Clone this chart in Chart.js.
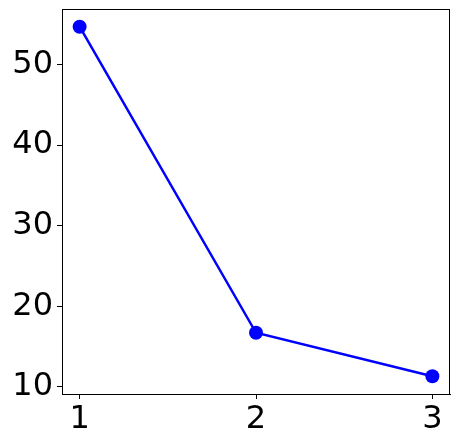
<!DOCTYPE html>
<html>
<head>
<meta charset="utf-8">
<script src="https://cdn.jsdelivr.net/npm/chart.js@4/dist/chart.umd.min.js"></script>
<style>
  html, body { margin: 0; padding: 0; background: #fff; }
  #wrap { width: 459px; height: 447px; }
</style>
</head>
<body>
<div id="wrap"><canvas id="line-chart"></canvas></div>
<script>
var xValues = [1, 2, 3];
var yValues = [54.7, 16.7, 11.3];
var xTicks = [1, 2, 3];
var yTicks = [10, 20, 30, 40, 50];

// box around the plot area, like matplotlib spines
var frame = {
    id: 'frame',
    afterDraw: function (chart) {
        var a = chart.chartArea;
        var ctx = chart.ctx;
        ctx.save();
        ctx.strokeStyle = '#000';
        ctx.lineWidth = 1;
        ctx.strokeRect(a.left + 0.5, a.top + 0.5, a.right - a.left - 1, a.bottom - a.top);
        ctx.restore();
    }
};

const ctx = document.getElementById('line-chart');

const config = {
    type: 'line',
    data: {
        datasets: [
            {
                label: 'series',
                data: xValues.map(function (x, i) { return {x: x, y: yValues[i]}; }),
                borderColor: '#0000ff',
                backgroundColor: '#0000ff',
                borderWidth: 2.5,
                pointRadius: 7,
                pointHoverRadius: 7,
                pointBorderWidth: 0,
                tension: 0,
            }
        ]
    },
    options: {
        responsive: true,
        maintainAspectRatio: false,
        animation: false,
        layout: {
            padding: {top: 9, right: 9, left: 0, bottom: 0}
        },
        plugins: {
            legend: {display: false},
            tooltip: {enabled: false}
        },
        scales: {
            x: {
                type: 'linear',
                min: 0.9,
                max: 3.1,
                afterBuildTicks: function (scale) {
                    scale.ticks = xTicks.map(function (v) { return {value: v}; });
                },
                afterFit: function (scale) {
                    scale.height = 53;
                    scale.paddingLeft = 0;
                    scale.paddingRight = 0;
                },
                grid: {drawOnChartArea: false, drawTicks: true, tickLength: 5, color: '#000'},
                border: {display: true, color: '#000'},
                ticks: {
                    color: '#000',
                    padding: 1,
                    maxRotation: 0,
                    font: {family: 'DejaVu Sans', size: 32}
                }
            },
            y: {
                min: 9.1,
                max: 56.9,
                afterBuildTicks: function (scale) {
                    scale.ticks = yTicks.map(function (v) { return {value: v}; });
                },
                afterFit: function (scale) {
                    scale.width = 62;
                    scale.paddingTop = 0;
                    scale.paddingBottom = 0;
                },
                grid: {drawOnChartArea: false, drawTicks: true, tickLength: 5, color: '#000'},
                border: {display: true, color: '#000'},
                ticks: {
                    color: '#000',
                    padding: 4,
                    font: {family: 'DejaVu Sans', size: 32}
                }
            }
        }
    },
    plugins: [frame]
};

var chart = new Chart(ctx, config);
</script>
</body>
</html>
